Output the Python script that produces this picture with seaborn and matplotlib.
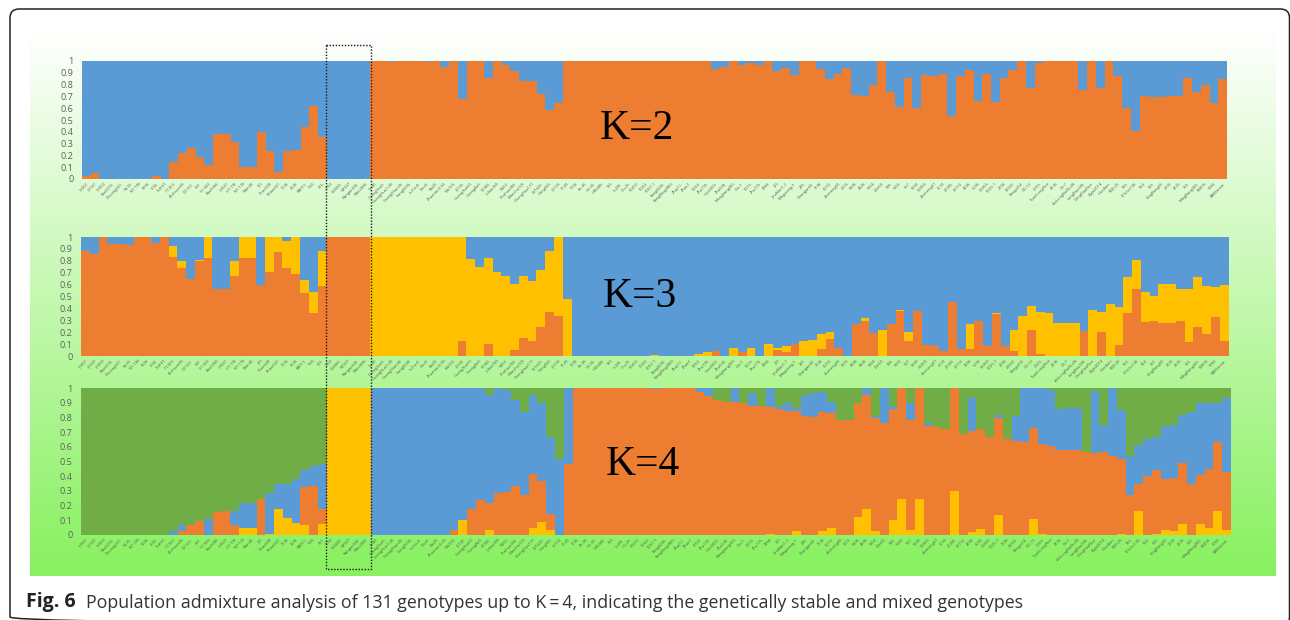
import numpy as np
import pandas as pd
import matplotlib
matplotlib.use("Agg")
import matplotlib.pyplot as plt
from matplotlib.patches import FancyBboxPatch, Rectangle
import seaborn as sns

# genotypes, in the order of the x axis
genotypes = [
    "JH301", "JH141", "JH303", "BaoS01S", "Chuang601", "Ni-36", "N1 185", "9696", "K-56", "TuHH1",
    "7-1303", "Aichuan36", "CJ1101", "631", "S1 603", "BaoS066", "JH041", "H1 7/8", "N1 135", "Wan40",
    "J65", "Shan628", "Peian641", "7136", "3536", "BB011", "Yi36", "365", "7053", "16S085",
    "N7307", "Nangan536", "Wan2836", "Jin40", "GuangYan5", "GuangHua1-45", "GuangShan36", "LiangS036", "Lu1xu5", "Xiao5",
    "Bai25", "Zhuanan3-36", "Mo155", "J6155", "GuangYan65", "GuangAn5", "S1365", "Julian365", "N553", "Shuhua365",
    "Manchu725", "ChengHua177", "LV1625", "HengS65", "JH135", "Pi-43", "1736", "Ke-36", "He-36", "H3548S",
    "Fe5", "LuJ36", "Ou-25", "SD431", "SD44", "SD57-1", "Kang8236", "KangBing2865", "ZhuJ11", "Zhan1",
    "SD54", "Zhu735", "HuaS055", "Zhu536", "Mengbang365", "Dtz-1", "SD15", "Zhu775", "4966", "J55",
    "JinaNan1-1", "Mingxiang-1", "285", "Changan65", "7136", "SD10", "Anmeng65", "3616", "6436", "4636",
    "5364", "2Ge65", "596", "5365", "567", "5243", "3G365", "Anmeng61", "3C33", "21395",
    "37713", "4036", "5036", "3G365", "SD25-1", "2106", "23033", "Bengal14", "GD-13", "2D05",
    "TuanLongRice", "4136", "GS-7", "AnLongBaiXiu36", "LangBao386", "DengHuaRice", "Agai2014", "Huaiban", "R6D-25", "965",
    "115/ler136", "964", "355", "KingBang65", "2735", "2635", "365", "MingBang365", "R3818", "9065",
    "BB86main",
]

# K=2, top of the orange part (blue fills up to 1)
k2_orange = (
    [.025, .055, 0, 0, 0, 0, 0, 0, .025, 0]
    + [.14, .22, .265, .19, .12, .385, .38, .31, .105, .105]
    + [.40, .24, .06, .24, .25, .44, .62, .355]
    + [0] * 5
    + [1, 1, .995, 1, 1, 1, .995, 1, .945, 1]
    + [.675, 1, 1]
    + [.853, 1, .97, .915, .83, .83, .72, .585, .64]
    + [1] * 17
    + [.93, .95, 1, .97, .985, .97, 1]
    + [.915, .94, .885, 1, 1]
    + [.935, .845, .89, .94, .71]
    + [.70, .795, 1, .735, .61, .86, .605, .88, .87, .89, .53]
    + [.87, .92, .665, .89, .65, .855, .92, 1, .775, .98]
    + [1] * 4
    + [.755, 1, .775, 1, .875, .605, .405]
    + [.70, .695, .695, .70, .70]
    + [.86, .735, .80, .645, .85]
)

# K=3, top of orange and top of yellow (blue fills up to 1)
k3_orange = (
    [.885, .855, 1, .945, .94, .935, 1, 1, .95, 1]
    + [.835, .74, .65, .795, .825, .565, .565, .675, .825, .825]
    + [.595, .705, .87, .74, .69, .53, .365, .59]
    + [1] * 5
    + [0] * 10
    + [.13, 0, 0]
    + [.105, 0, 0, .05, .155, .125, .24, .37, .34, 0]
    + [0] * 14
    + [0, 0, .04, 0, 0, .03, 0, 0, 0, .047]
    + [.035, .10, 0, 0, .055, .145, .07, 0, .27]
    + [.29, .19, 0, .27, .375, .13, .375, .095, .08, .04, .45]
    + [.06, .06, .295, .085, .35, .085, .04, 0, .215, .02]
    + [0] * 4
    + [.21, 0, .20, 0, .095, .365, .565]
    + [.285, .29, .275, .275, .29, .115, .245, .185, .33, .125]
)
k3_yellow_top = (
    [.885, .855, 1, .945, .94, .935, 1, 1, .95, 1]
    + [.925, .80, .65, .81, 1, .565, .565, .795, 1, 1]
    + [.595, 1, 1, .97, 1, .64, .54, .885]
    + [1] * 5
    + [1] * 11
    + [.815, .75]
    + [.825, .705, .675, .605, .67, .63, .725, .88, 1, .475]
    + [0] * 9
    + [.005, 0, 0, 0, 0]
    + [.015, .035, .04, 0, .07, .03, .07, 0, .105, .065]
    + [.085, .105, .13, .135, .185, .20, .07, 0, .27]
    + [.32, .19, .215, .27, .39, .205, .375, .095, .08, .04, .45]
    + [.06, .27, .295, .085, .365, .085, .215, .335, .42, .37]
    + [.36, .28, .28, .28]
    + [.21, .39, .37, .435, .415, .665, .805]
    + [.54, .505, .605, .605, .565, .565, .665, .59, .58, .595]
)

# K=4, top of yellow, top of orange, top of blue (green fills up to 1)
k4_yellow = (
    [0] * 18
    + [.05, .05, 0, .005, .175, .115, .08, .07, 0, .075]
    + [1] * 5
    + [0] * 10
    + [.105, 0, 0, .035]
    + [0, 0, 0, 0, .05, .09, .035, 0, 0]
    + [0] * 22
    + [.01, 0, 0, .025, 0, 0, .025, .05, 0, 0, .125]
    + [.18, .03, 0, .105, .245, .035, .245, 0, 0, 0, .30]
    + [0, .02, .04, 0, .135, 0, 0, 0, .11, .005]
    + [0] * 8
    + [.005, 0, .16, 0, .01, .035, .03, .075, 0, .075, .05, .165, .035]
)
k4_orange_top = (
    [0] * 10
    + [0, .03, .07, .095, 0, .155, .16, .065, .05, .05]
    + [.245, .005, .175, .115, .08, .325, .335, .175]
    + [1] * 5
    + [0] * 9
    + [.035, .105, .18, .235, .215]
    + [.285, .295, .335, .27, .415, .37, .145, 0, .485]
    + [1] * 9
    + [.99, 1, 1, 1, 1]
    + [.97, .945, .915, .905, .905, .895, .88, .88, .87, .855]
    + [.845, .845, .81, .805, .835, .83, .78, .78]
    + [.90, .955, .795, .765, .86, 1, .785, 1, .74, .735, .72, 1]
    + [.69, .71, .72, .665, .795, .65, .64, .635, .73, .62]
    + [.605, .58, .58, .58, .565, .56, .565, .535, .515, .27, .35]
    + [.40, .445, .38, .385, .49, .35, .41, .45, .635, .43]
)
k4_blue_top = (
    [0] * 10
    + [.03, .065, .07, .095, .11, .155, .16, .16, .215, .215]
    + [.245, .285, .345, .345, .38, .44, .47, .48]
    + [1] * 5
    + [1] * 13
    + [.95, 1, .985, .92, .84, .955, .90, .665, .515, 1]
    + [1] * 14
    + [1, 1, .915, .905, 1, .895, .965, .88, 1, .88]
    + [.895, .865, .95, .965, .97, .905, .78, .78]
    + [.90, 1, .81, 1, .875, 1, .895, 1, .76, .735, .72, 1]
    + [.69, .93, .72, .665, .815, .65, .81, 1, 1, 1]
    + [.985, .86, .865, .865, .565, .98, .745, 1, .85, .535, .61]
    + [.655, .67, .74, .745, .815, .835, .895, .90, .90, .93]
)
full = [1] * len(genotypes)

BLUE = "#5B9BD5"
ORANGE = "#ED7D31"
YELLOW = "#FFC000"
GREEN = "#70AD47"
W, H = 1290, 620

y_ticks = [0, .1, .2, .3, .4, .5, .6, .7, .8, .9, 1]
y_labels = ["0", "0.1", "0.2", "0.3", "0.4", "0.5", "0.6", "0.7", "0.8", "0.9", "1"]

sns.set_theme(style="white")
plt.rcParams["font.family"] = ["Open Sans", "DejaVu Sans"]

fig = plt.figure(figsize=(W / 100, H / 100), dpi=100, facecolor="white")


def px_axes(left, top, right, bottom, z):
    return fig.add_axes([left / W, 1 - bottom / H, (right - left) / W, (bottom - top) / H], zorder=z)


# green gradient behind the panels
bg = px_axes(30, 28, 1276, 576, 0)
grad = np.linspace(0, 1, 256)[:, None, None]
top_col = np.array([1.0, 1.0, 1.0])
bot_col = np.array([0.533, 0.945, 0.373])
bg.imshow(top_col + grad * (bot_col - top_col), aspect="auto", interpolation="bilinear")
bg.axis("off")


def admixture_panel(box, layers):
    ax = px_axes(*box, 1)
    ax.patch.set_alpha(0)
    # tallest layer first, each lower one painted over it
    for values, color in layers:
        data = pd.DataFrame({"pos": np.arange(len(genotypes)), "value": values})
        sns.barplot(data=data, x="pos", y="value", color=color, width=1, saturation=1,
                    linewidth=0, ax=ax)
    ax.set_xlim(-0.5, len(genotypes) - 0.5)
    ax.set_ylim(0, 1)
    ax.set_xlabel("")
    ax.set_ylabel("")
    ax.set_yticks(y_ticks, y_labels)
    ax.set_xticks(np.arange(len(genotypes)))
    ax.set_xticklabels(genotypes, rotation=45, ha="right", rotation_mode="anchor")
    ax.tick_params(axis="y", length=0, pad=6, labelsize=6.6, labelcolor="#5f5f5f")
    ax.tick_params(axis="x", length=0, pad=2, labelsize=2.9, labelcolor="#595959")
    sns.despine(ax=ax, left=True, bottom=True)
    return ax


admixture_panel((82, 61, 1227, 179), [(full, BLUE), (k2_orange, ORANGE)])
admixture_panel((81, 237, 1228.5, 356), [(full, BLUE), (k3_yellow_top, YELLOW), (k3_orange, ORANGE)])
admixture_panel((81, 388, 1231, 535), [(full, GREEN), (k4_blue_top, BLUE), (k4_orange_top, ORANGE), (k4_yellow, YELLOW)])

# everything on top is placed in picture pixels
over = fig.add_axes([0, 0, 1, 1], zorder=3)
over.set_xlim(0, W)
over.set_ylim(H, 0)
over.axis("off")

for txt, x, y in [("K=2", 600, 139), ("K=3", 603, 307), ("K=4", 606, 475)]:
    over.text(x, y, txt, family="Liberation Serif", fontsize=30, color="black", va="baseline", ha="left")

over.add_patch(Rectangle((326, 44.5), 44.5, 524, fill=False, edgecolor="#1a1a1a", linewidth=1,
                         linestyle=(0, (1, 1.2))))

over.add_patch(FancyBboxPatch((10, 9), 1279.5, 617, boxstyle="round,pad=0,rounding_size=9", fill=False,
                              edgecolor="#222222", linewidth=1.1, clip_on=True))

over.text(26, 607.5, "Fig. 6", fontsize=14, fontweight="bold", color="#222222", va="baseline")
over.text(86, 607.5, "Population admixture analysis of 131 genotypes up to K\u2009=\u20094, indicating the genetically stable and mixed genotypes",
          fontsize=12.82, color="#333333", va="baseline")

fig.savefig("out.png", dpi=100)
